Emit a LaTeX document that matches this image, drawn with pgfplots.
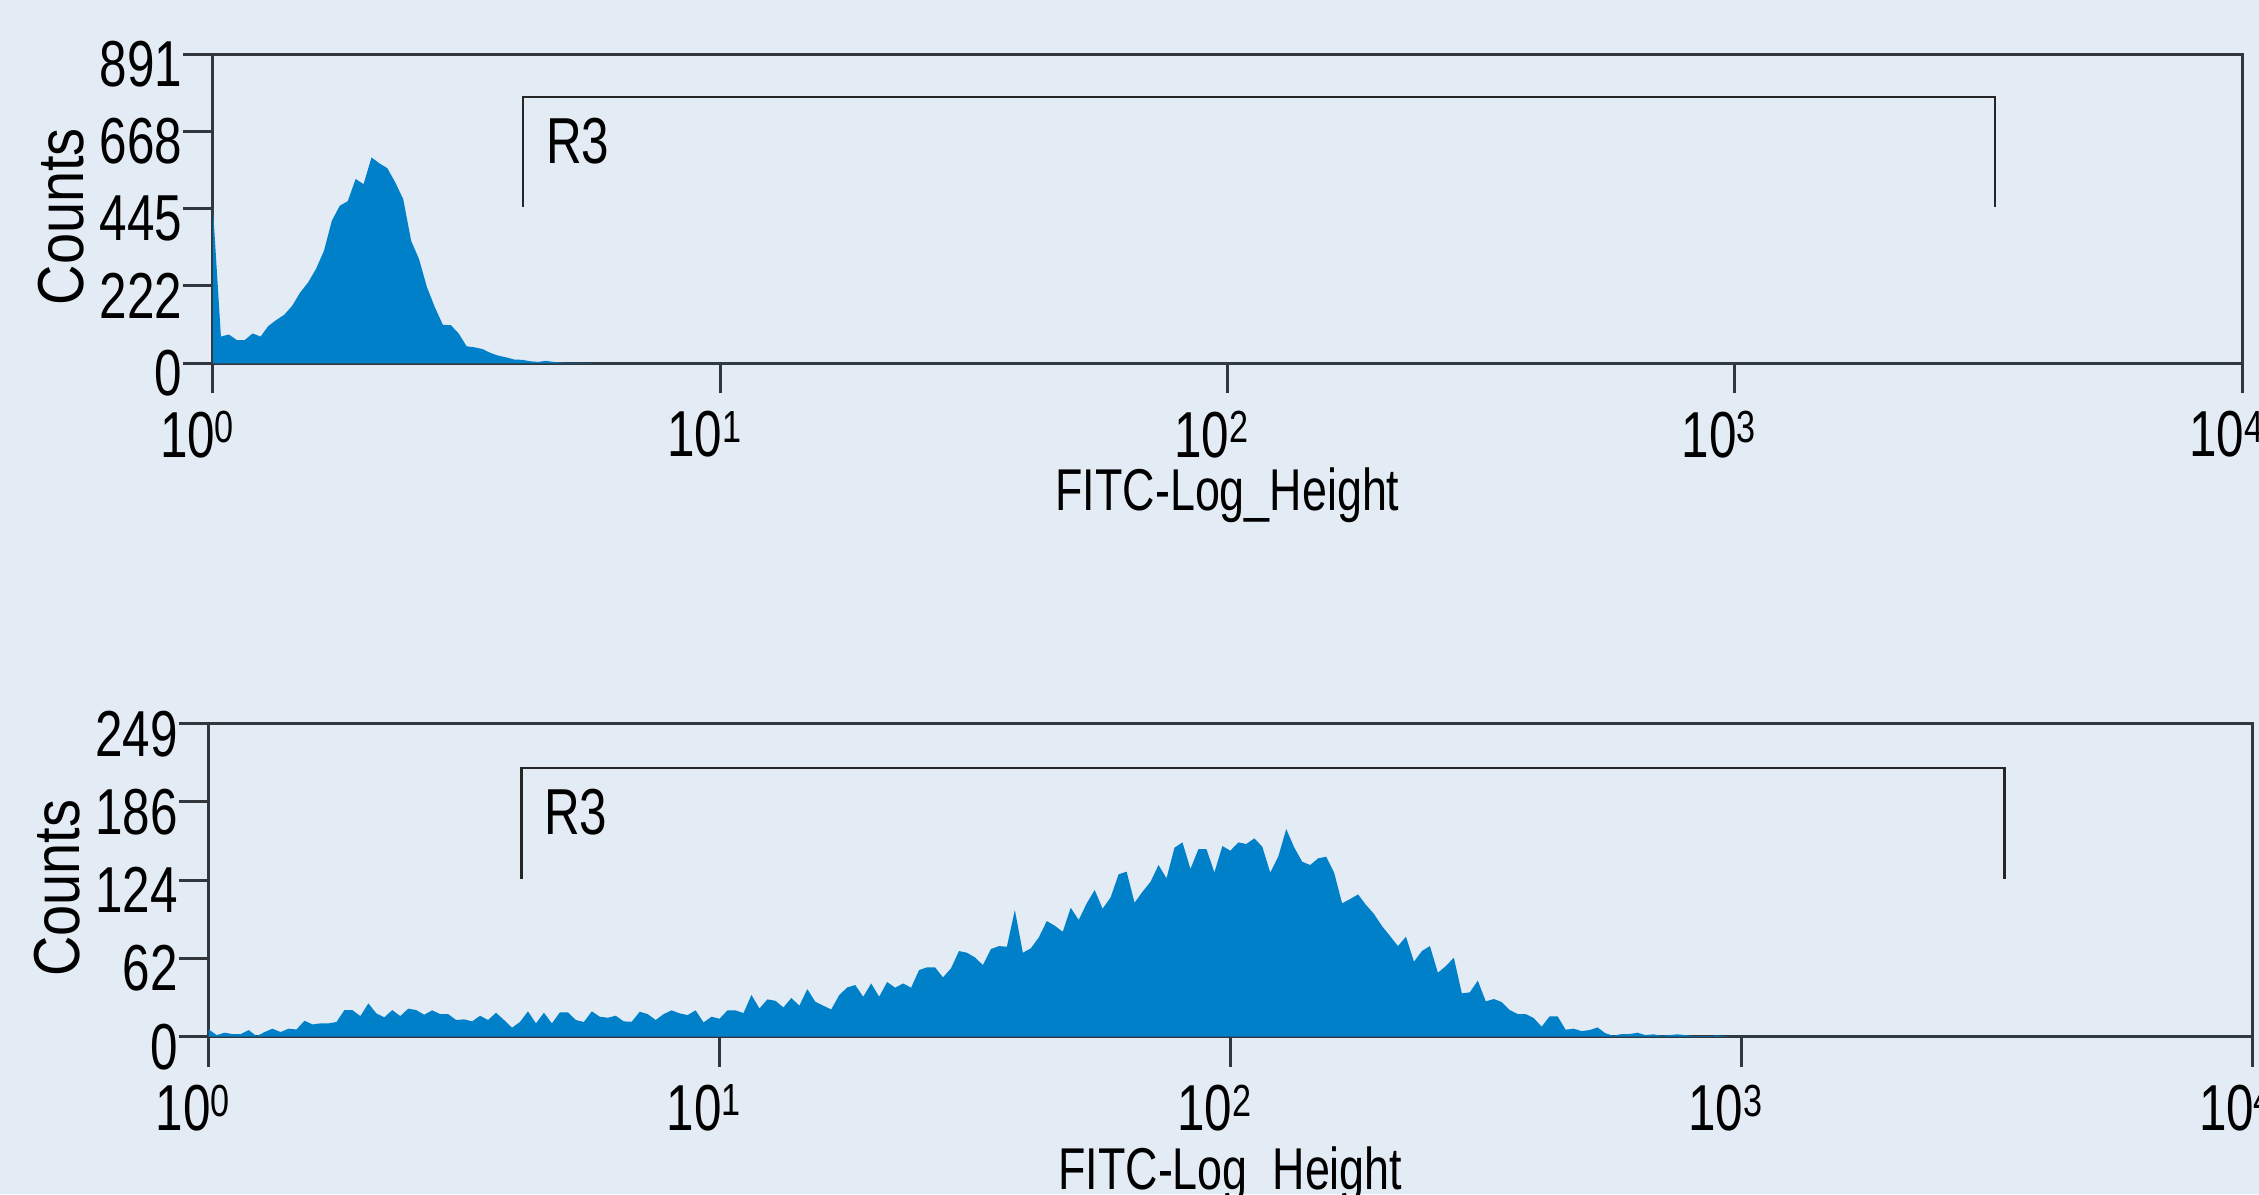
\documentclass[border=0pt]{standalone}
\usepackage{pgfplots}
\pgfplotsset{compat=1.18}
\usepackage{fontspec}
\setmainfont{Liberation Sans}
\newfontfamily\nar[FakeStretch=0.76]{Liberation Sans}
\newfontfamily\cnt[FakeStretch=0.86]{Liberation Sans}

\definecolor{bg}{RGB}{227,235,244}
\definecolor{hist}{RGB}{0,128,200}
\definecolor{axc}{RGB}{50,55,62}

% superscript exponent for the decade labels
\newcommand\sx[1]{\raisebox{2.9pt}{\fontsize{9}{9}\selectfont #1}}

% histograms: 256 channels over 4 decades
\pgfplotstableread{
ch n
0 445
1 77
2 83
3 67
4 67
5 86
6 77
7 108
8 125
9 140
10 166
11 204
12 233
13 272
14 324
15 411
16 454
17 467
18 531
19 516
20 593
21 576
22 562
23 521
24 473
25 353
26 300
27 219
28 161
29 111
30 110
31 86
32 49
33 46
34 41
35 30
36 22
37 17
38 11
39 10
40 6
41 4
42 7
43 4
44 2
45 1
46 1
47 1
48 0
255 0
}\topdata

\pgfplotstableread{
ch n
0 5.8
1 1.3
2 3.2
3 2.1
4 2.1
5 5.3
6 0.5
7 3.7
8 6.4
9 3.7
10 6.4
11 5.8
12 12.7
13 9.8
14 10.6
15 10.6
16 11.7
17 21.2
18 21.2
19 16.4
20 26.5
21 18.6
22 15.4
23 21.2
24 16.4
25 22.3
26 21.2
27 17.5
28 21.0
29 18.0
30 18.0
31 13.3
32 13.8
33 12.2
34 16.7
35 13.3
36 19.1
37 13.3
38 7.2
39 11.7
40 20.2
41 10.6
42 19.1
43 10.6
44 19.4
45 19.4
46 13.3
47 11.7
48 20.2
49 15.9
50 15.1
51 16.7
52 12.2
53 11.9
54 19.9
55 18.0
56 13.3
57 18.0
58 21.0
59 18.6
60 17.2
61 21.0
62 11.4
63 15.9
64 14.3
65 21.0
66 21.0
67 18.8
68 33.2
69 22.5
70 29.7
71 28.6
72 23.3
73 30.8
74 24.7
75 37.9
76 27.8
77 24.7
78 21.7
79 33.2
80 39.2
81 41.1
82 31.8
83 42.4
84 31.8
85 43.5
86 39.0
87 42.4
88 39.0
89 53.0
90 55.2
91 55.2
92 47.2
93 54.4
94 68.2
95 66.8
96 63.1
97 57.0
98 69.7
99 72.1
100 71.6
101 100.8
102 66.8
103 70.3
104 79.0
105 92.0
106 88.3
107 83.5
108 102.6
109 92.8
110 106.1
111 116.7
112 101.8
113 110.9
114 129.2
115 131.3
116 106.6
117 115.4
118 123.3
119 136.6
120 126.0
121 150.4
122 154.6
123 133.4
124 149.3
125 149.3
126 130.7
127 151.7
128 148.0
129 154.6
130 153.3
131 157.8
132 151.2
133 130.5
134 143.2
135 165.2
136 150.6
137 139.2
138 136.6
139 141.9
140 143.2
141 130.5
142 106.1
143 109.5
144 113.2
145 104.8
146 97.6
147 88.0
148 80.1
149 72.1
150 79.6
151 59.7
152 68.2
153 72.1
154 50.9
155 56.2
156 62.9
157 34.5
158 35.3
159 44.6
160 28.1
161 30.0
162 27.6
163 21.2
164 18.0
165 18.0
166 14.9
167 8.0
168 16.2
169 16.2
170 5.6
171 6.4
172 4.5
173 5.3
174 7.4
175 2.7
176 0.8
177 2.1
178 2.1
179 3.2
180 1.3
181 1.9
182 0.8
183 1.3
184 1.9
185 1.3
186 0.5
187 0.5
188 0.5
189 1.1
190 0.3
191 0
255 0
}\botdata

\pgfplotsset{facs/.style={
    scale only axis, anchor=south west,
    xmin=0, xmax=256,
    xtick={0,64,128,192,256},
    xticklabels={10\sx{0},10\sx{1},10\sx{2},10\sx{3},10\sx{4}},
    tick align=outside, tick pos=left, major tick length=6pt,
    axis line style={axc, line width=0.6pt},
    every tick/.style={axc, line width=0.6pt},
    tick label style={font=\nar\fontsize{13}{15}\selectfont, inner sep=0pt},
    yticklabel style={anchor=east, yshift=-2pt},
    xticklabel style={anchor=north, xshift=-3.2pt, yshift=-3.4pt},
    xlabel={FITC-Log\_Height}, ylabel={Counts},
    xlabel style={font=\nar\fontsize{11.8}{13}\selectfont, anchor=base},
    ylabel style={font=\cnt\fontsize{13}{15}\selectfont, anchor=center},
}}

\begin{document}
\begin{tikzpicture}
\path[use as bounding box] (0,0) rectangle (451.8pt,-238.8pt);
\clip (0,0) rectangle (451.8pt,-238.8pt);
\fill[bg] (0,0) rectangle (451.8pt,-238.8pt);

\begin{axis}[facs,
    at={(42.6pt,-72.66pt)}, width=405.8pt, height=61.86pt,
    ymin=0, ymax=891,
    ytick={0,222.75,445.5,668.25,891},
    yticklabels={0,222,445,668,891},
    xlabel style={at={(axis description cs:0.5,-0.475)}},
    ylabel style={at={(axis description cs:-0.0749,0.474)}},
  ]
  \addplot[fill=hist, draw=none] table[x=ch, y=n] {\topdata} \closedcycle;
  \addplot[black!85, line width=0.45pt] coordinates {(39.1,451) (39.1,767) (224.8,767) (224.8,451)};
  \node[anchor=west, inner sep=0pt, font=\nar\fontsize{13}{15}\selectfont] at (axis cs:41.9,640) {R3};
\end{axis}

\begin{axis}[facs,
    at={(41.74pt,-207.34pt)}, width=408.66pt, height=62.6pt,
    ymin=0, ymax=249,
    ytick={0,62.25,124.5,186.75,249},
    yticklabels={0,62,124,186,249},
    xlabel style={at={(axis description cs:0.5,-0.487)}},
    ylabel style={at={(axis description cs:-0.074,0.474)}},
  ]
  \addplot[fill=hist, draw=none] table[x=ch, y=n] {\botdata} \closedcycle;
  \addplot[black!85, line width=0.45pt] coordinates {(39.2,125.7) (39.2,213.8) (225,213.8) (225,125.7)};
  \node[anchor=west, inner sep=0pt, font=\nar\fontsize{13}{15}\selectfont] at (axis cs:41.9,179) {R3};
\end{axis}
\end{tikzpicture}
\end{document}
